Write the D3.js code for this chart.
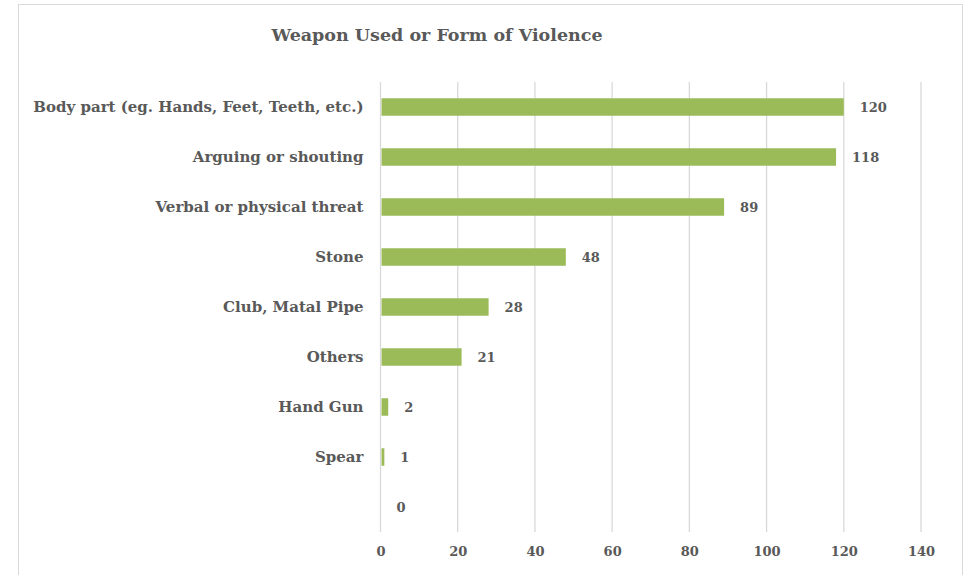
<!DOCTYPE html>
<html><head><meta charset="utf-8">
<script src="https://cdn.jsdelivr.net/npm/d3@7"></script>
<style>body{margin:0;background:#fff}</style>
</head><body>
<script>
const categories = ["Body part (eg. Hands, Feet, Teeth, etc.)","Arguing or shouting","Verbal or physical threat","Stone","Club, Matal Pipe","Others","Hand Gun","Spear",""];
const values = [120,118,89,48,28,21,2,1,0];
const xTicks = [0,20,40,60,80,100,120,140];
const title = "Weapon Used or Form of Violence";

(function(){
const W=967,H=575;
const font="'DejaVu Serif', 'Liberation Serif', serif";
const txt="#595959";
const svg=d3.select("body").append("svg").attr("width",W).attr("height",H);
svg.append("rect").attr("x",18.5).attr("y",4.5).attr("width",944).attr("height",600).attr("fill","#fff").attr("stroke","#d9d9d9");

const pl=380.5,pr=921,pt=82,pb=532;
const x=d3.scaleLinear().domain([0,140]).range([pl,pr]);
const y=d3.scaleBand().domain(categories.map((c,i)=>i)).range([pt,pb]).paddingInner(0.65).paddingOuter(0.325);

svg.append("g").selectAll("line").data(xTicks).join("line")
 .attr("x1",d=>x(d)).attr("x2",d=>x(d)).attr("y1",pt).attr("y2",pb)
 .attr("stroke","#d9d9d9").attr("stroke-width",1.3);

svg.append("g").selectAll("rect").data(values).join("rect")
 .attr("x",x(0)+1).attr("y",(d,i)=>y(i)).attr("height",y.bandwidth())
 .attr("width",d=>Math.max(0,x(d)-x(0)-1)).attr("fill","#9BBB59");

svg.append("g").selectAll("text").data(values).join("text")
 .attr("x",d=>x(d)+16).attr("y",(d,i)=>y(i)+y.bandwidth()/2).attr("dy","0.35em")
 .attr("font-family",font).attr("font-weight","bold").attr("font-size",13).attr("fill",txt)
 .text(d=>d);

svg.append("g").selectAll("text").data(categories).join("text")
 .attr("x",pl-17).attr("y",(d,i)=>y(i)+y.bandwidth()/2).attr("dy","0.35em")
 .attr("text-anchor","end")
 .attr("font-family",font).attr("font-weight","bold").attr("font-size",15).attr("fill",txt)
 .text(d=>d);

const ax=d3.axisBottom(x).tickValues(xTicks).tickSize(0).tickPadding(15);
const g=svg.append("g").attr("transform",`translate(0,${pb})`).call(ax);
g.select(".domain").remove();
g.selectAll("text").attr("font-family",font).attr("font-weight","bold").attr("font-size",13).attr("fill",txt);

svg.append("text").attr("x",437).attr("y",41).attr("text-anchor","middle")
 .attr("font-family",font).attr("font-weight","bold").attr("font-size",17.5).attr("fill",txt).text(title);
})();
</script>
</body></html>
